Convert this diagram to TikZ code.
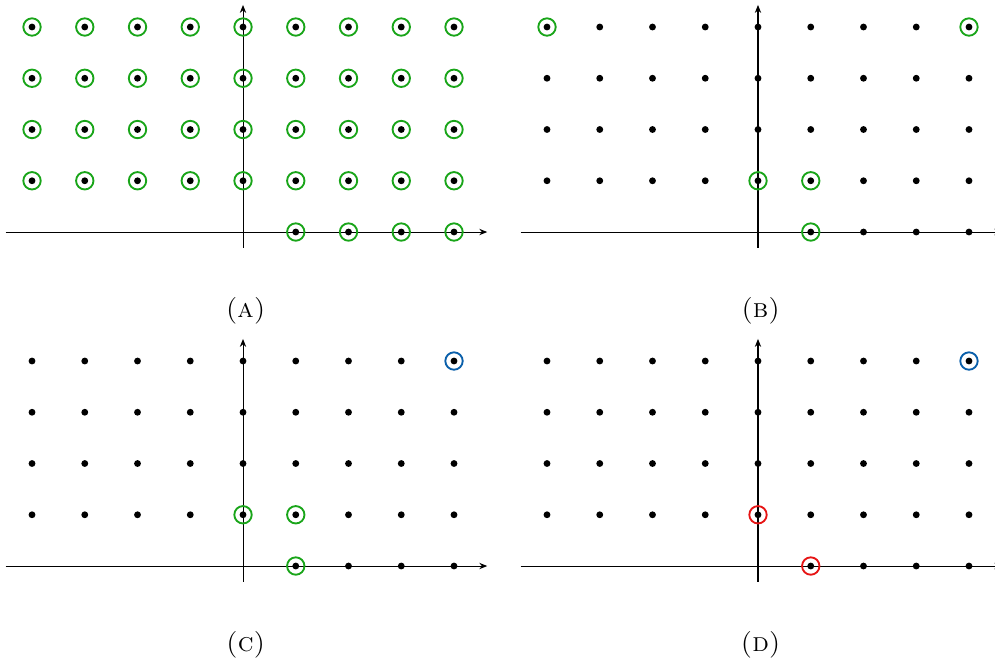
\documentclass[tikz,border=0pt]{standalone}
\usetikzlibrary{arrows.meta}
\definecolor{ringgreen}{RGB}{25,165,25}
\definecolor{ringblue}{RGB}{10,95,170}
\definecolor{ringred}{RGB}{230,20,20}
\newcommand{\latticepanel}{%
\draw[line width=0.55pt, -{Stealth[length=1.5mm,width=1.2mm]}] (-4.5,0) -- (4.63,0);
\draw[line width=0.55pt, -{Stealth[length=1.5mm,width=1.2mm]}] (0,-0.31) -- (0,4.43);
\foreach \x in {-4,...,4} \foreach \y in {1,...,4} \fill (\x,\y) circle (0.065cm);
\foreach \x in {1,...,4} \fill (\x,0) circle (0.065cm);
}
\begin{document}
\begin{tikzpicture}[y={(0,0.9716cm)}, ring/.style={line width=1pt}, panellabel/.style={font=\Large}]
\useasboundingbox (-4.607,-8.449) rectangle (14.256,4.527);

% (a) all points marked
\begin{scope}
\latticepanel
\foreach \x in {-4,...,4} \foreach \y in {1,...,4} \draw[ring, ringgreen] (\x,\y) circle (0.165cm);
\foreach \x in {1,...,4} \draw[ring, ringgreen] (\x,0) circle (0.165cm);
\node[panellabel] (capa) at (0.05,-1.54) {\textsc{(a)}};
\end{scope}

% (b)
\begin{scope}[shift={(9.763,0)}]
\latticepanel
\foreach \p in {(-4,4),(4,4),(0,1),(1,1),(1,0)} \draw[ring, ringgreen] \p circle (0.165cm);
\node[panellabel] (capb) at (0.05,-1.54) {\textsc{(b)}};
\end{scope}

% (c)
\begin{scope}[shift={(0,-6.517)}]
\latticepanel
\foreach \p in {(0,1),(1,1),(1,0)} \draw[ring, ringgreen] \p circle (0.165cm);
\draw[ring, ringblue] (4,4) circle (0.165cm);
\node[panellabel] (capc) at (0.05,-1.54) {\textsc{(c)}};
\end{scope}

% (d)
\begin{scope}[shift={(9.763,-6.517)}]
\latticepanel
\foreach \p in {(0,1),(1,0)} \draw[ring, ringred] \p circle (0.165cm);
\draw[ring, ringblue] (4,4) circle (0.165cm);
\node[panellabel] (capd) at (0.05,-1.54) {\textsc{(d)}};
\end{scope}
\end{tikzpicture}
\end{document}
